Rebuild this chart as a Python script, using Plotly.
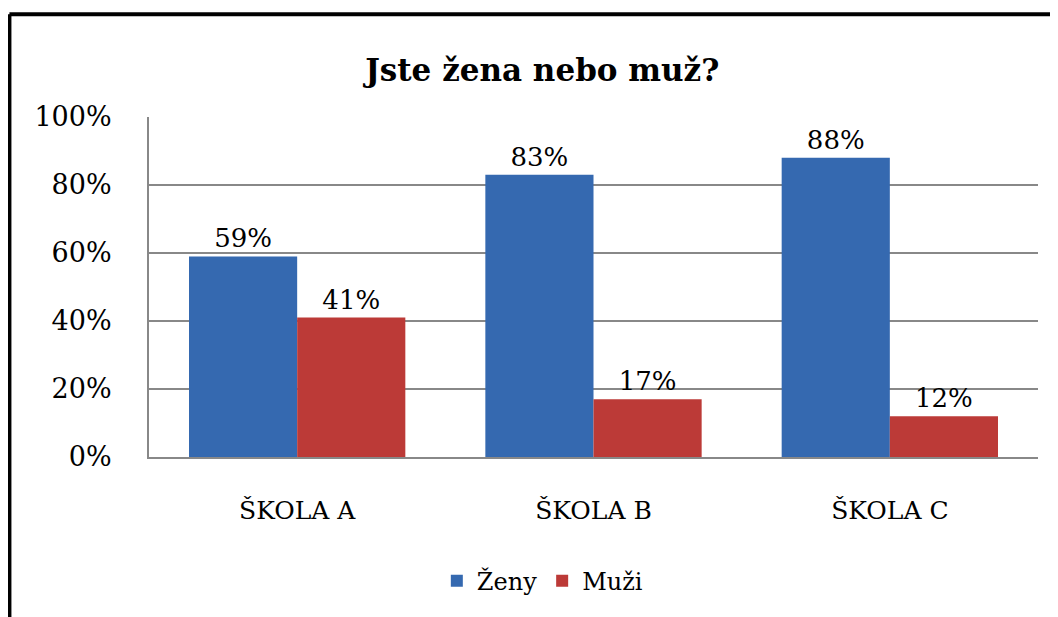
import plotly.graph_objects as go

categories = ["ŠKOLA A", "ŠKOLA B", "ŠKOLA C"]
zeny = [59, 83, 88]
muzi = [41, 17, 12]
tick_vals = [0, 20, 40, 60, 80, 100]
tick_text = ["0%", "20%", "40%", "60%", "80%", "100%"]

FONT = "DejaVu Serif"

fig = go.Figure()
fig.add_trace(go.Bar(
    x=categories, y=zeny, name="Ženy",
    marker=dict(color="#3569B0", line=dict(width=0)),
    text=[f"{v}%" for v in zeny], textposition="outside",
    textfont=dict(family=FONT, size=26, color="black"),
    cliponaxis=False,
))
fig.add_trace(go.Bar(
    x=categories, y=muzi, name="Muži",
    marker=dict(color="#BC3A37", line=dict(width=0)),
    text=[f"{v}%" for v in muzi], textposition="outside",
    textfont=dict(family=FONT, size=26, color="black"),
    cliponaxis=False,
))

fig.update_layout(
    width=1058, height=617,
    margin=dict(l=141, r=28, t=109, b=168),
    paper_bgcolor="white", plot_bgcolor="white",
    barmode="group", bargap=0.27, bargroupgap=0,
    title=dict(text="<b>Jste žena nebo muž?</b>", x=0.505, xanchor="center",
               y=0.9, yanchor="middle",
               font=dict(family=FONT, size=31, color="black")),
    legend=dict(orientation="h", x=0.443, xanchor="center", y=-0.365, yanchor="middle",
                font=dict(family=FONT, size=24, color="black"),
                traceorder="normal", itemwidth=30),
    xaxis=dict(showgrid=False, showline=True, linecolor="#888888", linewidth=2,
               ticks="", tickfont=dict(family=FONT, size=25, color="black"),
               ticklabelstandoff=30),
    yaxis=dict(range=[0, 100], tickvals=tick_vals, ticktext=tick_text,
               showgrid=True, gridcolor="#888888", gridwidth=2,
               showline=True, linecolor="#888888", linewidth=2,
               zeroline=False, ticks="",
               tickfont=dict(family=FONT, size=27, color="black"),
               ticklabelstandoff=30),
    showlegend=True,
)

# outer chart frame (top and left edges visible)
fig.add_shape(type="line", xref="paper", yref="paper",
              x0=-0.157, x1=1.05, y0=1.302, y1=1.302,
              line=dict(color="black", width=4))
fig.add_shape(type="line", xref="paper", yref="paper",
              x0=-0.157, x1=-0.157, y0=1.302, y1=-0.5,
              line=dict(color="black", width=4))

fig.write_html("out.html")
